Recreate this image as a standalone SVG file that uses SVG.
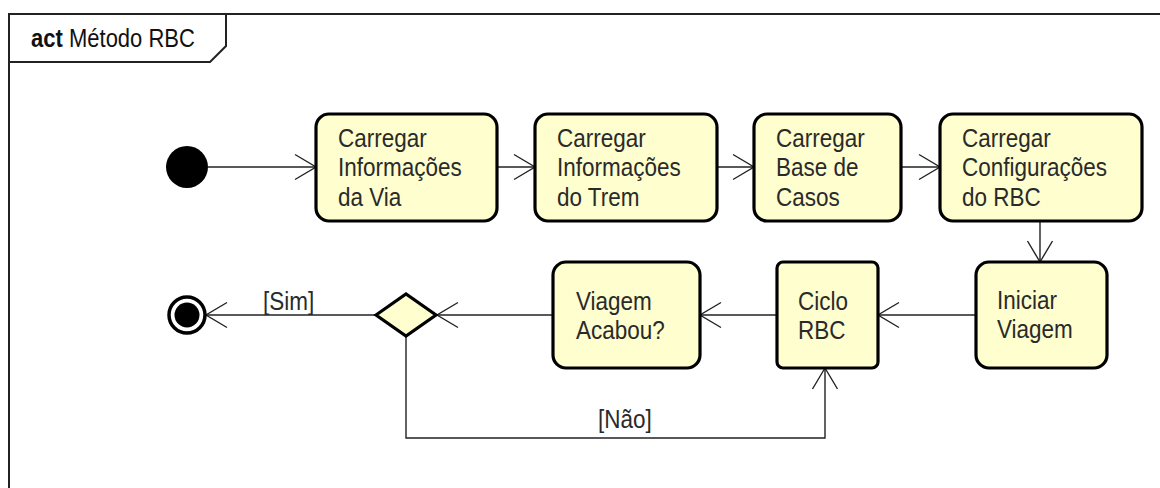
<svg xmlns="http://www.w3.org/2000/svg" width="1160" height="488" viewBox="0 0 1160 488">
<style>
.frame{fill:none;stroke:#222;stroke-width:2}
.act{fill:#FEFECE;stroke:#000;stroke-width:3.2}
.t{font-family:"Liberation Sans",Arial,sans-serif;font-size:22.5px;fill:#2a2a2a}
.e{fill:none;stroke:#222;stroke-width:1.4}
</style>
<defs>
<marker id="ah" markerUnits="userSpaceOnUse" orient="auto" markerWidth="30" markerHeight="30" refX="0" refY="0" overflow="visible">
<path d="M-21,-12.5 L0,0 L-21,12.5" fill="none" stroke="#222" stroke-width="1.4"/>
</marker>
</defs>
<rect width="1160" height="488" fill="#fff"/>
<g id="frame">
<rect class="frame" x="9" y="14" width="1170" height="500"/>
<path class="frame" d="M9,62 L210,62 L226,46 L226,14"/>
<text transform="translate(0,47) scale(1,1.15)" x="31" y="0" font-family="Liberation Sans,Arial,sans-serif" font-size="22" fill="#111"><tspan font-weight="bold">act</tspan><tspan x="69">Método RBC</tspan></text>
</g>
<g id="connectors">
<line class="e" x1="208" y1="167" x2="316" y2="167" marker-end="url(#ah)"/>
<line class="e" x1="497" y1="167" x2="535" y2="167" marker-end="url(#ah)"/>
<line class="e" x1="717" y1="167" x2="754" y2="167" marker-end="url(#ah)"/>
<line class="e" x1="901" y1="167" x2="940" y2="167" marker-end="url(#ah)"/>
<line class="e" x1="1040" y1="221" x2="1040" y2="262" marker-end="url(#ah)"/>
<line class="e" x1="976" y1="315" x2="878" y2="315" marker-end="url(#ah)"/>
<line class="e" x1="777" y1="315" x2="700" y2="315" marker-end="url(#ah)"/>
<line class="e" x1="553" y1="315" x2="437" y2="315" marker-end="url(#ah)"/>
<line class="e" x1="376" y1="315" x2="206" y2="315" marker-end="url(#ah)"/>
<polyline class="e" points="406,336 406,438 825,438 825,368" marker-end="url(#ah)"/>
<text class="t" transform="translate(0,310) scale(1,1.15)" x="263" y="0">[Sim]</text>
<text class="t" transform="translate(0,428) scale(1,1.15)" x="598" y="0">[Não]</text>
</g>
<g id="initial"><circle cx="187" cy="167" r="21" fill="#000"/></g>
<g id="n1"><rect class="act" x="316" y="114" width="181" height="107" rx="13"/>
<text class="t" transform="translate(0,147) scale(1,1.15)" x="338" y="0">Carregar<tspan x="338" dy="25.65">Informações</tspan><tspan x="338" dy="25.65">da Via</tspan></text></g>
<g id="n2"><rect class="act" x="535" y="114" width="182" height="107" rx="13"/>
<text class="t" transform="translate(0,147) scale(1,1.15)" x="557" y="0">Carregar<tspan x="557" dy="25.65">Informações</tspan><tspan x="557" dy="25.65">do Trem</tspan></text></g>
<g id="n3"><rect class="act" x="754" y="114" width="147" height="107" rx="13"/>
<text class="t" transform="translate(0,147) scale(1,1.15)" x="776" y="0">Carregar<tspan x="776" dy="25.65">Base de</tspan><tspan x="776" dy="25.65">Casos</tspan></text></g>
<g id="n4"><rect class="act" x="940" y="114" width="202" height="107" rx="13"/>
<text class="t" transform="translate(0,147) scale(1,1.15)" x="962" y="0">Carregar<tspan x="962" dy="25.65">Configurações</tspan><tspan x="962" dy="25.65">do RBC</tspan></text></g>
<g id="n5"><rect class="act" x="976" y="262" width="131" height="106" rx="13"/>
<text class="t" transform="translate(0,309) scale(1,1.15)" x="997" y="0">Iniciar<tspan x="997" dy="25.65">Viagem</tspan></text></g>
<g id="n6"><rect class="act" x="777" y="262" width="101" height="106" rx="6"/>
<text class="t" transform="translate(0,310) scale(1,1.15)" x="798" y="0">Ciclo<tspan x="798" dy="25.65">RBC</tspan></text></g>
<g id="n7"><rect class="act" x="553" y="262" width="147" height="106" rx="13"/>
<text class="t" transform="translate(0,310) scale(1,1.15)" x="576" y="0">Viagem<tspan x="576" dy="25.65">Acabou?</tspan></text></g>
<g id="decision"><polygon class="act" points="376,315 406,294 436,315 406,336"/></g>
<g id="final"><circle cx="187" cy="315" r="18" fill="#fff" stroke="#000" stroke-width="3.5"/><circle cx="187" cy="315" r="12.5" fill="#000"/></g>
</svg>
